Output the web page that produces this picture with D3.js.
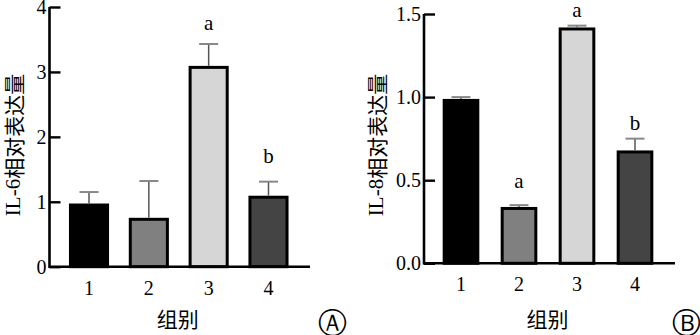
<!DOCTYPE html>
<html>
<head>
<meta charset="utf-8">
<script src="https://cdn.jsdelivr.net/npm/d3@7/dist/d3.min.js"></script>
<style>
  html, body { margin: 0; padding: 0; background: #fff; }
  svg { display: block; }
</style>
</head>
<body>
<svg id="chart" width="700" height="335"></svg>
<script>
// ---- data ----
const categories = ["1", "2", "3", "4"];
const il6Means = [0.95, 0.73, 3.07, 1.07];
const il6SD    = [0.20, 0.59, 0.36, 0.24];
const il6Letters = ["", "", "a", "b"];
const il6Ticks = [0, 1, 2, 3, 4];
const il6TickLabels = ["0", "1", "2", "3", "4"];

const il8Means = [0.98, 0.33, 1.41, 0.67];
const il8SD    = [0.02, 0.02, 0.02, 0.08];
const il8Letters = ["", "a", "a", "b"];
const il8Ticks = [0, 0.5, 1.0, 1.5];
const il8TickLabels = ["0.0", "0.5", "1.0", "1.5"];

const barFills = ["#000000", "#808080", "#d6d6d6", "#444444"];
const xTitle = "组别";

const svg = d3.select("#chart");
const SERIF = "'Liberation Serif', 'Times New Roman', serif";

function panel(cfg) {
  const g = svg.append("g");
  const x = d3.scaleBand().domain(categories).range(cfg.xRange)
    .paddingInner(cfg.pad).paddingOuter(cfg.pad / 2);
  const y = d3.scaleLinear().domain(cfg.domain).range(cfg.yRange);

  // bars
  g.selectAll("rect.bar").data(cfg.means).join("rect")
    .attr("class", "bar")
    .attr("x", (d, i) => x(categories[i]))
    .attr("width", x.bandwidth())
    .attr("y", d => y(d))
    .attr("height", d => y(0) - y(d))
    .attr("fill", (d, i) => barFills[i])
    .attr("stroke", "#000")
    .attr("stroke-width", 3);

  // error bars
  const eb = g.selectAll("g.err").data(cfg.means).join("g").attr("class", "err");
  eb.append("line")
    .attr("x1", (d, i) => x(categories[i]) + x.bandwidth() / 2)
    .attr("x2", (d, i) => x(categories[i]) + x.bandwidth() / 2)
    .attr("y1", d => y(d) - 1.5)
    .attr("y2", (d, i) => y(d + cfg.sd[i]))
    .attr("stroke", "#555").attr("stroke-width", 1.5);
  eb.append("line")
    .attr("x1", (d, i) => x(categories[i]) + x.bandwidth() / 2 - 9.5)
    .attr("x2", (d, i) => x(categories[i]) + x.bandwidth() / 2 + 9.5)
    .attr("y1", (d, i) => y(d + cfg.sd[i]))
    .attr("y2", (d, i) => y(d + cfg.sd[i]))
    .attr("stroke", "#888").attr("stroke-width", 2);

  // significance letters
  g.selectAll("text.sig").data(cfg.letters).join("text")
    .attr("class", "sig")
    .attr("x", (d, i) => x(categories[i]) + x.bandwidth() / 2)
    .attr("y", (d, i) => y(cfg.means[i] + cfg.sd[i]) - cfg.letterOffsets[i])
    .attr("text-anchor", "middle")
    .attr("font-family", SERIF)
    .attr("font-size", 21)
    .text(d => d);

  // y axis
  const yAxis = d3.axisLeft(y).tickValues(cfg.ticks)
    .tickFormat((d, i) => cfg.tickLabels[i]).tickSizeInner(-11).tickSizeOuter(0).tickPadding(3);
  const ya = g.append("g").attr("transform", `translate(${cfg.xAxisStart},0)`).call(yAxis)
    .attr("font-family", SERIF).attr("font-size", 20);
  ya.select(".domain").attr("stroke", "#000").attr("stroke-width", 2.6)
    .attr("d", `M0,${y(cfg.domain[0]) + 1.3}V${y(cfg.domain[1])}`);
  ya.selectAll(".tick line").attr("stroke", "#000").attr("stroke-width", 2.4);
  ya.selectAll(".tick text").attr("fill", "#000");

  // x axis
  const xAxis = d3.axisBottom(x).tickSize(0).tickPadding(14);
  const xa = g.append("g").attr("transform", `translate(0,${y(0)})`).call(xAxis)
    .attr("font-family", SERIF).attr("font-size", 20);
  xa.select(".domain").attr("stroke", "#000").attr("stroke-width", 2.6)
    .attr("d", `M${cfg.xAxisStart},0H${cfg.xAxisEnd}`);
  xa.selectAll(".tick text").attr("fill", "#000");

  // x title
  g.append("text")
    .attr("x", (cfg.xAxisStart + cfg.xAxisEnd) / 2 - 2)
    .attr("y", 327)
    .attr("text-anchor", "middle")
    .attr("font-family", "'Noto Sans CJK SC', sans-serif")
    .attr("font-size", 21)
    .text(xTitle);

  // y title
  const yt = g.append("text")
    .attr("transform", `translate(${cfg.yTitleX},${cfg.yTitleY}) rotate(-90)`)
    .attr("text-anchor", "middle")
    .attr("dominant-baseline", "central")
    .attr("font-size", 21);
  yt.append("tspan").attr("font-family", SERIF).text(cfg.yPrefix);
  yt.append("tspan").attr("font-family", "'Noto Sans CJK SC', sans-serif").text("相对表达量");

  // panel mark
  g.append("text")
    .attr("x", cfg.markX).attr("y", 323)
    .attr("text-anchor", "middle")
    .attr("dominant-baseline", "central")
    .attr("font-family", "'DejaVu Sans', sans-serif")
    .attr("font-size", 29)
    .text(cfg.mark);
}

panel({
  means: il6Means, sd: il6SD, letters: il6Letters, letterOffsets: [0, 0, 14, 19],
  ticks: il6Ticks, tickLabels: il6TickLabels,
  domain: [0, 4], yRange: [266.7, 7],
  xRange: [59.1, 298.4], pad: 0.38,
  xAxisStart: 49.5, xAxisEnd: 310,
  yTitleX: 13, yTitleY: 145, yPrefix: "IL-6",
  mark: "Ⓐ", markX: 332.5
});

panel({
  means: il8Means, sd: il8SD, letters: il8Letters, letterOffsets: [0, 17, 9, 9],
  ticks: il8Ticks, tickLabels: il8TickLabels,
  domain: [0, 1.5], yRange: [263.3, 14],
  xRange: [432, 664], pad: 0.42,
  xAxisStart: 424, xAxisEnd: 675,
  yTitleX: 376, yTitleY: 145, yPrefix: "IL-8",
  mark: "Ⓑ", markX: 686
});
</script>
</body>
</html>
